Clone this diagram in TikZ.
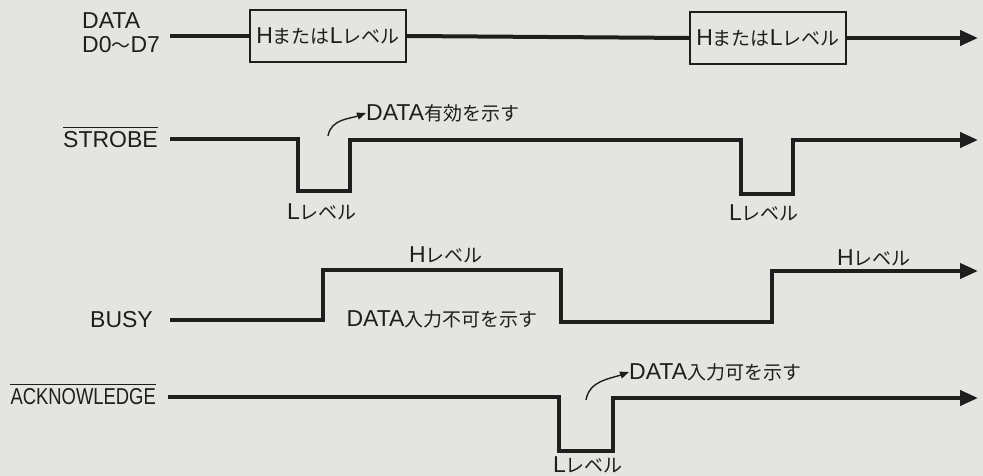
\documentclass[tikz,border=0pt]{standalone}
\usepackage{fontspec}
\setmainfont{Liberation Sans}[Scale=1.15]
\newfontfamily\jp{Noto Sans CJK JP}[Scale=0.95]
\usetikzlibrary{
	arrows.meta,
	positioning
}

\definecolor{paper}{RGB}{228,228,224}
\definecolor{ink}{RGB}{30,30,30}

\tikzset{
	wave/.style={ink, line width=4pt, line join=miter},
	wavearrow/.style={wave, -{Triangle[length=18pt,width=15pt]}},
	sig/.style={text=ink, inner sep=0pt, font=\fontsize{20}{24}\selectfont},
	levelbox/.style={sig, draw=ink, line width=1.8pt, minimum width=156pt, minimum height=52pt},
	noteline/.style={ink, line width=1.4pt, -{Triangle[length=9pt,width=7pt]}},
	bar/.style={ink, line width=1pt}
}

\begin{document}
\begin{tikzpicture}[x=1pt, y=-1pt]
	% 背景
	\fill[paper] (0,0) rectangle (983,476);
	\useasboundingbox (0,0) rectangle (983,476);
	% 信号名
	\node[sig, align=left, anchor=west] (lData) at (82,33) {DATA\\D0{\jp ～}D7};
	\node[sig, anchor=east] (lStrobe) at (158,140) {STROBE};
	\node[sig, anchor=east] (lBusy) at (153,320) {BUSY};
	\node[sig, anchor=east] (lAck) at (156,397) {\scalebox{0.8}[1]{ACKNOWLEDGE}};
	\draw[bar] ([yshift=4pt]lStrobe.north west) -- ([yshift=4pt]lStrobe.north east);
	\draw[bar] ([yshift=4pt]lAck.north west) -- ([yshift=4pt]lAck.north east);
	% DATA
	\node[levelbox] (box1) at (328,36) {H{\jp または}L{\jp レベル}};
	\node[levelbox] (box2) at (768,38) {H{\jp または}L{\jp レベル}};
	\coordinate (dStart) at (170,36);
	\coordinate (dEnd) at (978,38);
	\draw[wave] (dStart) -- (box1.west);
	\draw[wave] (box1.east) -- (box2.west);
	\draw[wavearrow] (box2.east) -- (dEnd);
	% STROBE
	\draw[wavearrow] (170,139) -- (298,139) -- (298,191) -- (350,191) -- (350,140)
		-- (741,140) -- (741,194) -- (793,194) -- (793,140) -- (978,140);
	\node[sig] (sLow1) at (322,212) {L{\jp レベル}};
	\node[sig] (sLow2) at (764,213) {L{\jp レベル}};
	\node[sig, anchor=west] (sNote) at (366,113) {DATA{\jp 有効を示す}};
	\coordinate (sFrom) at (328,136);
	\draw[noteline] (sFrom) to[out=80, in=200] (sNote.west);
	% BUSY
	\draw[wavearrow] (170,320) -- (323,320) -- (323,270) -- (561,270) -- (561,322)
		-- (772,322) -- (772,271) -- (978,271);
	\node[sig] (bHigh1) at (446,255) {H{\jp レベル}};
	\node[sig] (bHigh2) at (874,258) {H{\jp レベル}};
	\node[sig] (bNote) at (442,319) {DATA{\jp 入力不可を示す}};
	% ACKNOWLEDGE
	\draw[wavearrow] (168,397) -- (559,397) -- (559,451) -- (613,451) -- (613,398) -- (978,398);
	\node[sig] (aLow) at (588,465) {L{\jp レベル}};
	\node[sig, anchor=west] (aNote) at (629,372) {DATA{\jp 入力可を示す}};
	\coordinate (aFrom) at (586,400);
	\draw[noteline] (aFrom) to[out=80, in=200] (aNote.west);
\end{tikzpicture}
\end{document}
